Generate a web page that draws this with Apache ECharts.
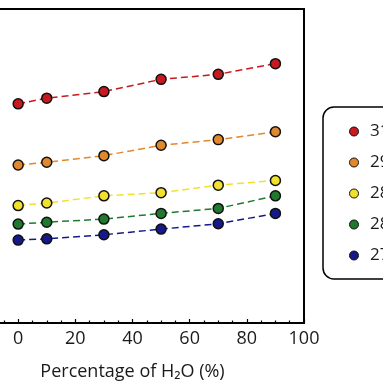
<!DOCTYPE html>
<html>
<head>
<meta charset="utf-8">
<script src="https://cdn.jsdelivr.net/npm/echarts@6/dist/echarts.min.js"></script>
<style>html,body{margin:0;padding:0;background:#fff}#c{width:383px;height:383px}</style>
</head>
<body>
<div id="c"></div>
<script>
// x values: percentage of H2O
const waterPct = [0, 10, 30, 50, 70, 90];
// series names (legend labels are clipped by the picture's edge)
const seriesNames = ['313 K', '298 K', '288 K', '283 K', '273 K'];
// y values (arbitrary units; y axis not visible in the reference)
const s313 = [69.8, 71.6, 73.7, 77.6, 79.2, 82.6];
const s298 = [50.3, 51.2, 53.3, 56.6, 58.4, 60.9];
const s288 = [37.4, 38.2, 40.5, 41.5, 43.9, 45.4];
const s283 = [31.5, 32.1, 33.1, 34.9, 36.5, 40.5];
const s273 = [26.4, 26.8, 28.1, 29.9, 31.6, 34.9];
const xTicks = [0, 20, 40, 60, 80, 100];

const lineColors = ['#c81a1e', '#e0892c', '#f2e02e', '#1f7a2e', '#15198a'];
const values = [s313, s298, s288, s283, s273];

const series = values.map((v, i) => ({
  name: seriesNames[i],
  type: 'line',
  data: waterPct.map((x, j) => [x, v[j]]),
  symbol: 'circle',
  symbolSize: 10,
  itemStyle: { color: lineColors[i], borderColor: '#111', borderWidth: 1.5 },
  lineStyle: { color: lineColors[i], width: 1.5, type: [7, 4] },
  emphasis: { disabled: true },
  z: 10 - i
}));

const chart = echarts.init(document.getElementById('c'), null, { renderer: 'canvas' });
chart.setOption({
  animation: false,
  backgroundColor: '#fff',
  grid: {
    left: -39, right: 79, top: 9, bottom: 60,
    outerBoundsMode: 'none', containLabel: false,
    show: true, borderColor: '#000', borderWidth: 2, backgroundColor: 'transparent'
  },
  xAxis: {
    type: 'value', min: -20, max: 100, interval: 20,
    axisLine: { show: true, lineStyle: { color: '#000', width: 2 } },
    axisTick: { show: true, inside: true, length: 4, lineStyle: { color: '#000', width: 1.2 } },
    minorTick: { show: true, splitNumber: 4, length: 2.5, lineStyle: { color: '#000', width: 1.2 } },
    splitLine: { show: false },
    axisLabel: {
      margin: 7, fontSize: 18, color: '#1a1a1a', fontFamily: 'Open Sans',
      showMinLabel: true, showMaxLabel: true, hideOverlap: false,
      formatter: v => (xTicks.indexOf(v) >= 0 ? String(v) : '')
    },
    name: 'Percentage of H₂O (%)',
    nameLocation: 'middle', nameGap: 40,
    nameTextStyle: { fontSize: 18, color: '#1a1a1a', fontFamily: 'Open Sans' }
  },
  yAxis: {
    type: 'value', min: 0, max: 100, interval: 20,
    axisLine: { show: false }, axisTick: { show: false },
    splitLine: { show: false }, axisLabel: { show: false }
  },
  legend: {
    orient: 'vertical', left: 323, top: 107,
    data: seriesNames,
    icon: 'circle', itemWidth: 22, itemHeight: 9, itemGap: 14,
    padding: [16, 14, 15, 26],
    backgroundColor: '#fff', borderColor: '#000', borderWidth: 1.5, borderRadius: 11,
    textStyle: { fontSize: 17, lineHeight: 17, color: '#1a1a1a', fontFamily: 'Open Sans' },
    itemStyle: { borderColor: '#111', borderWidth: 1 }
  },
  series: series
});
</script>
</body>
</html>
